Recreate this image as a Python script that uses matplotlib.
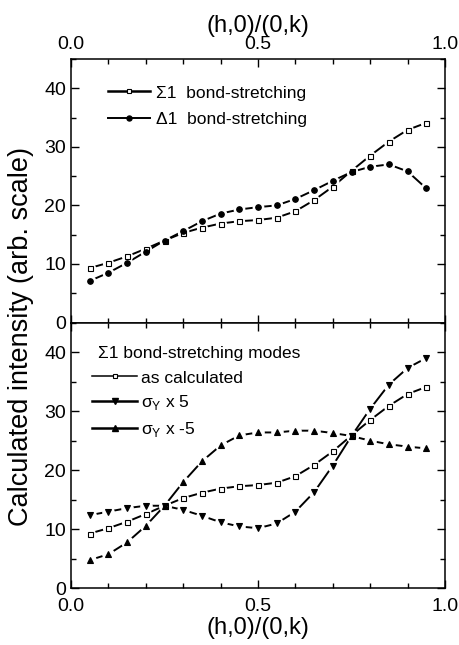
import matplotlib
matplotlib.use("Agg")
import matplotlib.pyplot as plt
from matplotlib.lines import Line2D
from matplotlib.ticker import MultipleLocator

plt.rcParams["font.family"] = ["Liberation Sans", "DejaVu Sans"]
plt.rcParams["mathtext.fontset"] = "custom"
plt.rcParams["mathtext.rm"] = "Liberation Sans"

# wave vector positions
q = [0.05, 0.10, 0.15, 0.20, 0.25, 0.30, 0.35, 0.40, 0.45, 0.50,
     0.55, 0.60, 0.65, 0.70, 0.75, 0.80, 0.85, 0.90, 0.95]

# top panel
sigma1 = [9.3, 10.2, 11.3, 12.6, 14.0, 15.3, 16.2, 16.9, 17.3, 17.5,
          17.9, 19.0, 20.9, 23.2, 25.9, 28.5, 30.9, 32.9, 34.1]
delta1 = [7.1, 8.5, 10.2, 12.1, 14.0, 15.6, 17.3, 18.6, 19.3, 19.7,
          20.0, 21.1, 22.6, 24.2, 25.7, 26.6, 27.0, 25.8, 22.9]

# bottom panel
sigma_y_p5 = [12.4, 13.0, 13.6, 14.0, 14.0, 13.3, 12.3, 11.2, 10.5, 10.2,
              11.0, 13.0, 16.3, 20.8, 25.8, 30.4, 34.5, 37.3, 39.0]
sigma_y_m5 = [4.8, 5.8, 7.8, 10.6, 14.0, 18.0, 21.5, 24.2, 25.9, 26.4,
              26.4, 26.7, 26.7, 26.3, 25.8, 25.0, 24.4, 24.0, 23.7]

fig = plt.figure(figsize=(4.59, 6.45), dpi=100)
ax_top = fig.add_axes([0.1547, 0.5, 0.8148, 0.4085])
ax_bot = fig.add_axes([0.1547, 0.0876, 0.8148, 0.4124])


def serie(ax, x, y, marker, ms, face="black", lw=1.4):
    ax.plot(x, y, color="black", lw=lw, zorder=2)
    # white halo around the markers gives the broken look of the lines
    ax.plot(x, y, ls="none", marker="o", ms=ms + 4.5, mfc="white",
            mec="none", zorder=3)
    ax.plot(x, y, ls="none", marker=marker, ms=ms, mfc=face, mec="black",
            mew=0.8, zorder=4)


serie(ax_top, q, sigma1, "s", 3.6, face="white")
serie(ax_top, q, delta1, "o", 4.0)

serie(ax_bot, q, sigma1, "s", 3.6, face="white")
serie(ax_bot, q, sigma_y_p5, "v", 4.6)
serie(ax_bot, q, sigma_y_m5, "^", 4.6)

for ax in (ax_top, ax_bot):
    ax.set_xlim(0, 1)
    ax.set_ylim(0, 45)
    ax.xaxis.set_major_locator(MultipleLocator(0.5))
    ax.xaxis.set_minor_locator(MultipleLocator(0.1))
    ax.yaxis.set_major_locator(MultipleLocator(10))
    ax.yaxis.set_minor_locator(MultipleLocator(5))
    ax.tick_params(which="both", direction="in", top=True, right=True,
                   width=1.0, labelsize=14)
    ax.tick_params(which="major", length=6)
    ax.tick_params(which="minor", length=3.5)
    for s in ax.spines.values():
        s.set_linewidth(1.1)

fmt = lambda v, p: f"{v:.1f}"
ax_top.tick_params(axis="x", labelbottom=False, labeltop=True, pad=4.5)
ax_top.xaxis.set_major_formatter(fmt)
ax_top.xaxis.set_label_position("top")
ax_top.set_xlabel("(h,0)/(0,k)", fontsize=17, labelpad=2.5)
ax_bot.tick_params(axis="x", pad=6.5)
ax_bot.xaxis.set_major_formatter(fmt)
ax_bot.set_xlabel("(h,0)/(0,k)", fontsize=17, labelpad=2)
ax_bot.set_yticks([0, 10, 20, 30, 40])
ax_top.set_yticks([0, 10, 20, 30, 40])

fig.text(0.045, 0.479, "Calculated intensity (arb. scale)", rotation=90,
         fontsize=19.5, ha="center", va="center")

h_top = [
    Line2D([], [], color="black", lw=1.8, marker="s", ms=3.2, mfc="white",
           mec="black", mew=0.8),
    Line2D([], [], color="black", lw=1.4, marker="o", ms=3.6, mfc="black",
           mec="black"),
]
ax_top.legend(h_top, ["Σ1  bond-stretching", "Δ1  bond-stretching"],
              loc="upper left", bbox_to_anchor=(0.099, 0.9), frameon=False,
              fontsize=12.5, handlelength=2.4, handletextpad=0.35,
              labelspacing=0.64, borderaxespad=0, borderpad=0)

h_bot = [
    Line2D([], [], color="black", lw=1.1, marker="s", ms=3.2, mfc="white",
           mec="black", mew=0.8),
    Line2D([], [], color="black", lw=1.8, marker="v", ms=4.0, mfc="black",
           mec="black"),
    Line2D([], [], color="black", lw=1.8, marker="^", ms=4.0, mfc="black",
           mec="black"),
]
ax_bot.text(0.072, 0.885, "Σ1 bond-stretching modes", fontsize=12.5,
            transform=ax_bot.transAxes, ha="left", va="center")
ax_bot.legend(h_bot, ["as calculated", "σ$_\\mathregular{Y}$ x 5",
                      "σ$_\\mathregular{Y}$ x -5"],
              loc="upper left", bbox_to_anchor=(0.056, 0.82),
              frameon=False, fontsize=12.5, handlelength=2.6,
              handletextpad=0.2, labelspacing=0.45, borderaxespad=0,
              borderpad=0)

fig.savefig("out.png", dpi=100)
